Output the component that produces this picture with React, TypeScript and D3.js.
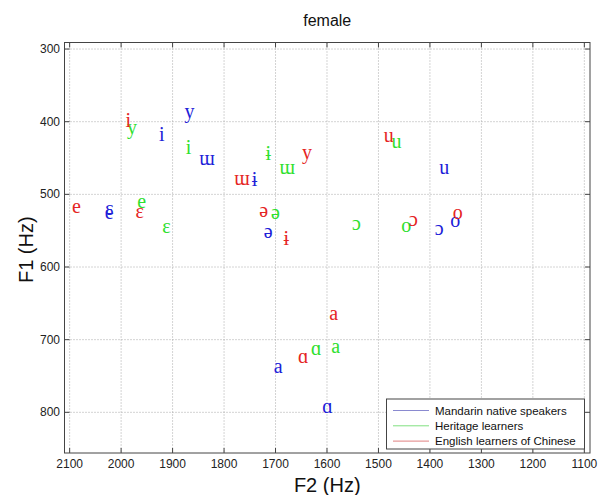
import * as d3 from 'd3'

// vowel symbols (same order for each group)
const vowels = ['y', 'i', 'ɯ', 'ɨ', 'e', 'ɛ', 'ə', 'u', 'ɔ', 'o', 'a', 'ɑ']

// Mandarin native speakers
const nativeF2 = [1867, 1921, 1833, 1741, 2023, 2023, 1714, 1372, 1382, 1351, 1695, 1599]
const nativeF1 = [391, 416, 453, 478, 528, 522, 553, 466, 550, 538, 739, 794]

// Heritage learners
const heritageF2 = [1979, 1869, 1677, 1714, 1960, 1912, 1700, 1465, 1543, 1446, 1583, 1621]
const heritageF1 = [414, 434, 466, 443, 512, 546, 528, 430, 542, 545, 712, 715]

// English learners of Chinese
const englishF2 = [1639, 1986, 1765, 1679, 2087, 1964, 1723, 1480, 1432, 1346, 1587, 1646]
const englishF1 = [448, 397, 480, 560, 519, 526, 524, 421, 537, 528, 666, 725]

const seriesNames = ['Mandarin native speakers', 'Heritage learners', 'English learners of Chinese']
const seriesColors = ['#2020d8', '#2ee02e', '#e52424']
const legendColors = ['#8a8ad0', '#80e080', '#e08080']

const xTicks = [2100, 2000, 1900, 1800, 1700, 1600, 1500, 1400, 1300, 1200, 1100]
const yTicks = [300, 400, 500, 600, 700, 800]

const W = 609
const H = 495
const left = 64.5
const right = 590
const top = 42.5
const bottom = 453

const sans = 'Arial, "Liberation Sans", Helvetica, sans-serif'
const serif = '"Times New Roman", "Liberation Serif", "DejaVu Serif", serif'

// baseline shift so that the glyph's ink is centred on the point
function glyphDy(v: string) {
  if (v === 'i' || v === 'ɨ') return '0.36em'
  if (v === 'y') return '0.12em'
  return '0.24em'
}

export default function App() {
  const x = d3.scaleLinear().domain([2110, 1089]).range([left, right])
  const y = d3.scaleLinear().domain([291, 856]).range([top, bottom])

  const groups = [
    { f2: nativeF2, f1: nativeF1, color: seriesColors[0] },
    { f2: heritageF2, f1: heritageF1, color: seriesColors[1] },
    { f2: englishF2, f1: englishF1, color: seriesColors[2] },
  ]

  const axisColor = '#444'
  const tickLen = 5

  return (
    <svg width={W} height={H} style={{ position: 'absolute', left: 0, top: 0, background: '#fff' }}>
      <rect x={0} y={0} width={W} height={H} fill="#fff" />
      <text x={(left + right) / 2} y={26} textAnchor="middle" fontFamily={sans} fontSize={16} fill="#111">
        female
      </text>

      {/* grid */}
      {xTicks.map(t => (
        <line key={'gx' + t} x1={x(t)} x2={x(t)} y1={top} y2={bottom}
          stroke="#a8a8a8" strokeWidth={1} strokeDasharray="1,2" />
      ))}
      {yTicks.map(t => (
        <line key={'gy' + t} x1={left} x2={right} y1={y(t)} y2={y(t)}
          stroke="#a8a8a8" strokeWidth={1} strokeDasharray="1,2" />
      ))}

      {/* ticks on all four sides */}
      {xTicks.map(t => (
        <g key={'tx' + t}>
          <line x1={x(t)} x2={x(t)} y1={bottom} y2={bottom - tickLen} stroke={axisColor} />
          <line x1={x(t)} x2={x(t)} y1={top} y2={top + tickLen} stroke={axisColor} />
          <text x={x(t)} y={468} textAnchor="middle" fontFamily={sans} fontSize={12} fill="#222">{t}</text>
        </g>
      ))}
      {yTicks.map(t => (
        <g key={'ty' + t}>
          <line x1={left} x2={left + tickLen} y1={y(t)} y2={y(t)} stroke={axisColor} />
          <line x1={right} x2={right - tickLen} y1={y(t)} y2={y(t)} stroke={axisColor} />
          <text x={60} y={y(t) + 4} textAnchor="end" fontFamily={sans} fontSize={12} fill="#222">{t}</text>
        </g>
      ))}

      <rect x={left} y={top} width={right - left} height={bottom - top} fill="none" stroke={axisColor} strokeWidth={1} />

      {/* vowel symbols */}
      {groups.map((g, gi) =>
        vowels.map((v, i) => (
          <text key={gi + '-' + i} x={x(g.f2[i])} y={y(g.f1[i])} dy={glyphDy(v)}
            textAnchor="middle" fontFamily={serif} fontSize={20} fill={g.color}>
            {v}
          </text>
        ))
      )}

      {/* legend */}
      <rect x={386.5} y={399} width={198} height={50} fill="#fff" stroke={axisColor} strokeWidth={1} />
      {seriesNames.map((n, i) => (
        <g key={n} transform={`translate(0, ${410.5 + i * 15.3})`}>
          <line x1={393} x2={429} y1={0} y2={0} stroke={legendColors[i]} strokeWidth={1} />
          <text x={435} y={4} fontFamily={sans} fontSize={11.5} fill="#111">{n}</text>
        </g>
      ))}

      {/* axis labels */}
      <text x={(left + right) / 2} y={492} textAnchor="middle" fontFamily={sans} fontSize={20} fill="#111">F2 (Hz)</text>
      <text transform={`translate(33, ${(top + bottom) / 2 + 2}) rotate(-90)`} textAnchor="middle"
        fontFamily={sans} fontSize={20} fill="#111">F1 (Hz)</text>
    </svg>
  )
}
